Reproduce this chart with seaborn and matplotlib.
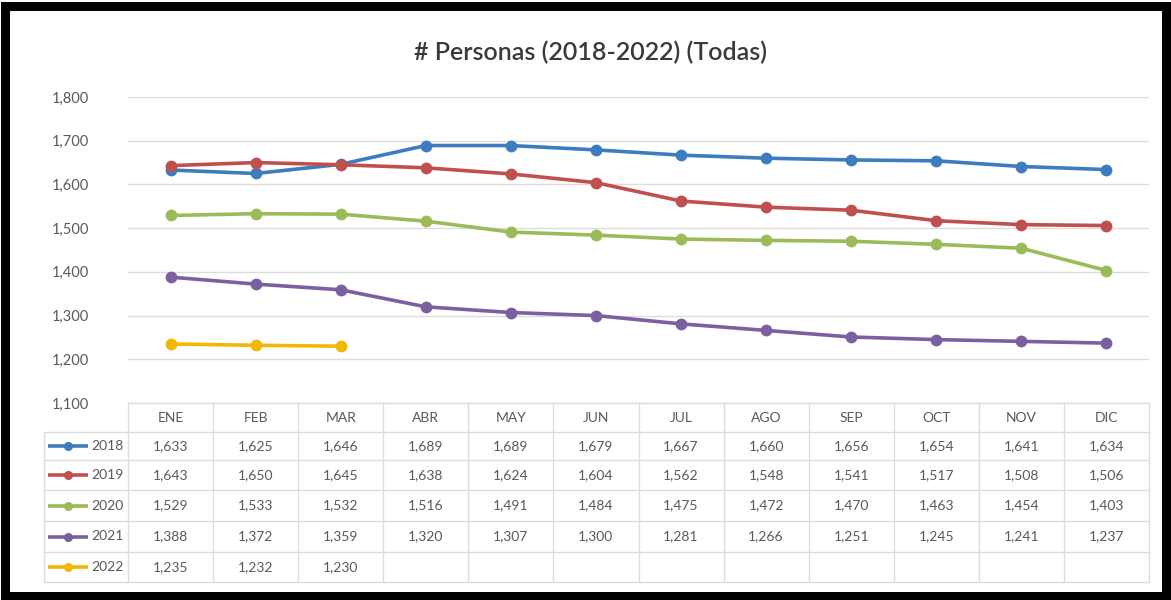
import numpy as np
import pandas as pd
import matplotlib
matplotlib.use("Agg")
import matplotlib.pyplot as plt
from matplotlib.patches import Rectangle
import seaborn as sns

months = ["ENE", "FEB", "MAR", "ABR", "MAY", "JUN", "JUL", "AGO", "SEP", "OCT", "NOV", "DIC"]
years = ["2018", "2019", "2020", "2021", "2022"]
v2018 = [1633, 1625, 1646, 1689, 1689, 1679, 1667, 1660, 1656, 1654, 1641, 1634]
v2019 = [1643, 1650, 1645, 1638, 1624, 1604, 1562, 1548, 1541, 1517, 1508, 1506]
v2020 = [1529, 1533, 1532, 1516, 1491, 1484, 1475, 1472, 1470, 1463, 1454, 1403]
v2021 = [1388, 1372, 1359, 1320, 1307, 1300, 1281, 1266, 1251, 1245, 1241, 1237]
v2022 = [1235, 1232, 1230]
series = [v2018, v2019, v2020, v2021, v2022]
colors = ["#3E7CC0", "#C0504D", "#9BBB59", "#7B5FA0", "#F2B705"]

sns.set_theme(style="white")
plt.rcParams["font.family"] = ["Lato", "DejaVu Sans"]

rows = []
for y, vals in zip(years, series):
    for i, v in enumerate(vals):
        rows.append({"mes": i, "anio": y, "personas": v})
df = pd.DataFrame(rows)

W, H = 1171, 600
fig = plt.figure(figsize=(W / 100, H / 100), dpi=100)
fig.patch.set_facecolor("white")

# plot area (pixel geometry of the chart body)
x0, x1 = 128, 1149
ytop, ybot = 97, 403
ax = fig.add_axes([x0 / W, 1 - ybot / H, (x1 - x0) / W, (ybot - ytop) / H])
sns.lineplot(data=df, x="mes", y="personas", hue="anio", palette=colors,
             marker="o", markersize=8.5, markeredgewidth=0, linewidth=2.6,
             legend=False, ax=ax, zorder=3)
ax.set_xlim(-0.5, 11.5)
ax.set_ylim(1100, 1800)
ax.set_yticks(np.arange(1100, 1801, 100))
ax.set_yticklabels([f"{t:,}" for t in range(1100, 1801, 100)])
ax.tick_params(axis="y", length=0, pad=28, labelsize=10.5, labelcolor="#595959")
ax.set_xticks([])
ax.set_xlabel("")
ax.set_ylabel("")
ax.grid(axis="y", color="#DCDCDC", linewidth=1)
for s in ax.spines.values():
    s.set_visible(False)
ax.set_facecolor("none")

# data table beneath the plot
ov = fig.add_axes([0, 0, 1, 1], zorder=-1)
ov.set_xlim(0, W)
ov.set_ylim(H, 0)
ov.axis("off")
colw = (x1 - x0) / 12
row_edges = [403, 432, 460, 490, 521, 552, 582]
leg_left = 44
gc = "#DCDCDC"
tc = "#595959"
# horizontal lines
ov.plot([x0, x1], [row_edges[0], row_edges[0]], color=gc, lw=1)
for ye in row_edges[1:]:
    ov.plot([leg_left, x1], [ye, ye], color=gc, lw=1)
# vertical lines
ov.plot([leg_left, leg_left], [row_edges[1], row_edges[-1]], color=gc, lw=1)
for i in range(13):
    xe = x0 + i * colw
    ov.plot([xe, xe], [row_edges[0], row_edges[-1]], color=gc, lw=1)
for i, m in enumerate(months):
    ov.text(x0 + (i + 0.5) * colw, (row_edges[0] + row_edges[1]) / 2, m,
            ha="center", va="center", fontsize=10, color=tc)
for r, (y, vals, c) in enumerate(zip(years, series, colors)):
    yc = (row_edges[r + 1] + row_edges[r + 2]) / 2
    ov.plot([48, 88], [yc, yc], color=c, lw=2.6, solid_capstyle="butt")
    ov.plot([68], [yc], marker="o", markersize=6.5, color=c, markeredgewidth=0)
    ov.text(124, yc, y, ha="right", va="center", fontsize=10, color=tc)
    for i, v in enumerate(vals):
        ov.text(x0 + (i + 0.5) * colw, yc, f"{v:,}", ha="center", va="center",
                fontsize=10, color=tc)

fig.text(590 / W, 1 - 52 / H, "# Personas (2018-2022) (Todas)", ha="center",
         va="center", fontsize=18, fontweight="semibold", color="#3A3A3A")

# outer frame
fig.patches.append(Rectangle((5 / W, 4.5 / H), (W - 10) / W, (H - 10) / H,
                             transform=fig.transFigure, fill=False,
                             edgecolor="black", linewidth=6.5))

fig.savefig("out.png", dpi=100)
